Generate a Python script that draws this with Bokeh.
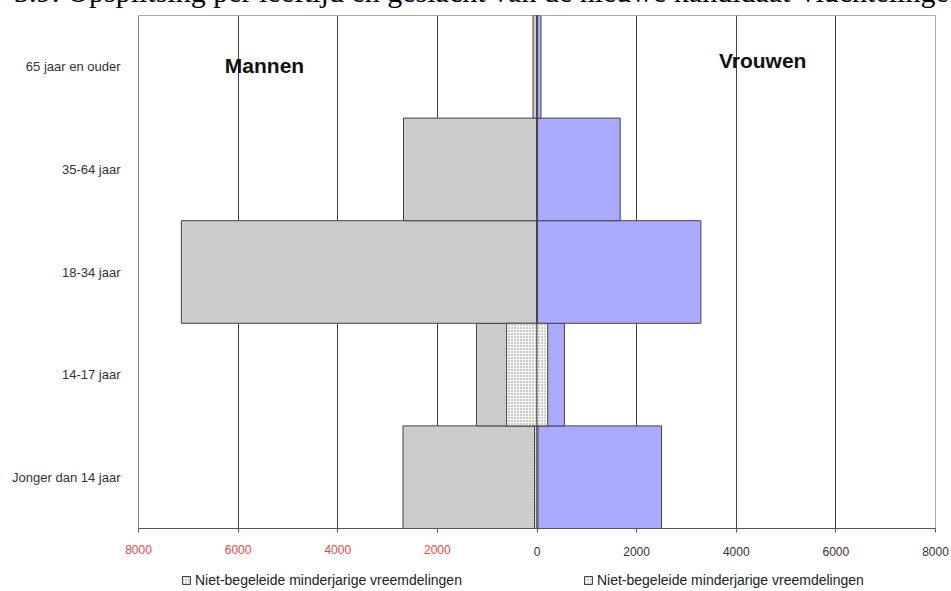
from bokeh.plotting import figure
from bokeh.layouts import column
from bokeh.models import (ColumnDataSource, Legend, LegendItem, LinearAxis,
                          FixedTicker, Range1d, FactorRange, Div)
from bokeh.core.properties import value
from bokeh.embed import file_html
from bokeh.resources import INLINE

# ---- data -------------------------------------------------------------
categories = ["Jonger dan 14 jaar", "14-17 jaar", "18-34 jaar",
              "35-64 jaar", "65 jaar en ouder"]
men_total = [2690, 1215, 7140, 2680, 80]
women_total = [2500, 550, 3290, 1670, 80]
men_unaccompanied = [50, 610, 0, 0, 0]
women_unaccompanied = [20, 215, 0, 0, 0]

x_ticks = [-8000, -6000, -4000, -2000, 0, 2000, 4000, 6000, 8000]
neg_tick_labels = ["8000", "6000", "4000", "2000"]
pos_tick_labels = ["0", "2000", "4000", "6000", "8000"]

gender_names = ["Mannen", "Vrouwen"]
gender_x = [-5470, 4530]
gender_y = ["65 jaar en ouder", "65 jaar en ouder"]

legend_label = "Niet-begeleide minderjarige vreemdelingen"
title_text = "3.9: Opsplitsing per leeftijd en geslacht van de nieuwe kandidaat-vluchtelingen"

W = 950
STIPPLE = dict(fill_color="white", line_color="#444444", line_width=1,
               hatch_pattern="dot", hatch_color="#777777", hatch_scale=3,
               hatch_weight=1)

# ---- sources ----------------------------------------------------------
src = ColumnDataSource(dict(
    cat=categories,
    men_left=[-v for v in men_total],
    women_right=women_total,
    um_left=[-v for v in men_unaccompanied],
    uw_right=women_unaccompanied,
    zero=[0] * len(categories),
))
txt = ColumnDataSource(dict(name=gender_names, x=gender_x, y=gender_y,
                            yo=[-1, -6]))

# ---- page caption, cropped at the top as in the scan --------------------
cap = Div(text=('<div style="position:relative; left:14px; top:-23px; '
                'white-space:nowrap; font-family:\'Liberation Serif\'; '
                'font-size:30px; line-height:30px; color:black;">'
                + title_text + '</div>'),
          width=W, height=14, margin=0, styles={"overflow": "hidden"})

# ---- main figure --------------------------------------------------------
p = figure(width=W, height=546, output_backend="svg", toolbar_location=None,
           y_range=FactorRange(*categories), x_range=Range1d(-8000, 8000),
           min_border_left=138, min_border_right=15, min_border_top=1,
           min_border_bottom=32, x_axis_location=None)
p.outline_line_color = "#aaaaaa"
p.outline_line_width = 1
p.background_fill_color = "white"
p.border_fill_color = "white"

p.ygrid.visible = False
p.xgrid.ticker = FixedTicker(ticks=x_ticks[1:-1])
p.xgrid.grid_line_color = "#444444"
p.xgrid.grid_line_width = 1

# bars
p.hbar(y="cat", left="men_left", right="zero", height=1.0, source=src,
       fill_color="#cccccc", line_color="#444444", line_width=1)
p.hbar(y="cat", left="zero", right="women_right", height=1.0, source=src,
       fill_color="#aaaaff", line_color="#444444", line_width=1)
p.hbar(y="cat", left="um_left", right="zero", height=1.0, source=src, **STIPPLE)
p.hbar(y="cat", left="zero", right="uw_right", height=1.0, source=src, **STIPPLE)

# gender labels
p.text(x="x", y="y", text="name", y_offset="yo", source=txt,
       text_font=value("Liberation Sans"), text_font_style="bold",
       text_font_size="21px", text_align="center", text_baseline="middle",
       text_color="#111111")

# y axis
p.yaxis.major_label_text_font = "Liberation Sans"
p.yaxis.major_label_text_font_size = "13px"
p.yaxis.major_label_text_color = "#333333"
p.yaxis.major_tick_line_color = None
p.yaxis.minor_tick_line_color = None
p.yaxis.axis_line_color = "#888888"
p.yaxis.major_label_standoff = 12

# x axis: black (positive) labels
ax1 = LinearAxis(ticker=FixedTicker(ticks=x_ticks))
ax1.major_label_overrides = {t: "" for t in x_ticks[:4]}
ax1.major_label_overrides.update({t: l for t, l in zip(x_ticks[4:], pos_tick_labels)})
ax1.major_label_text_font = "Liberation Sans"
ax1.major_label_text_font_size = "12px"
ax1.major_label_text_color = "#333333"
ax1.axis_line_color = "#555555"
ax1.major_tick_line_color = "#555555"
ax1.major_tick_out = 4
ax1.major_tick_in = 0
ax1.minor_tick_line_color = None
ax1.major_label_standoff = 14
p.add_layout(ax1, "below")

# x axis: red (negative) labels, drawn on the same row
ax2 = LinearAxis(ticker=FixedTicker(ticks=x_ticks))
ax2.major_label_overrides = {t: "" for t in x_ticks[4:]}
ax2.major_label_overrides.update({t: l for t, l in zip(x_ticks[:4], neg_tick_labels)})
ax2.major_label_text_font = "Liberation Sans"
ax2.major_label_text_font_size = "12px"
ax2.major_label_text_color = "#ee4444"
ax2.axis_line_color = None
ax2.major_tick_line_color = None
ax2.minor_tick_line_color = None
ax2.major_tick_out = 0
ax2.major_tick_in = 0
ax2.major_label_standoff = -14
p.add_layout(ax2, "below")

# ---- legend strip -------------------------------------------------------
lg = figure(width=W, height=30, output_backend="svg", toolbar_location=None,
            y_range=FactorRange(*categories), x_range=Range1d(-8000, 8000),
            min_border_left=138, min_border_right=15, min_border_top=0,
            min_border_bottom=0, x_axis_location=None, y_axis_location=None)
lg.outline_line_color = None
lg.grid.visible = False
lg.background_fill_color = "white"
lg.border_fill_color = "white"
r_m = lg.hbar(y="cat", left="um_left", right="zero", height=1.0, source=src,
              visible=False, **STIPPLE)
r_w = lg.hbar(y="cat", left="zero", right="uw_right", height=1.0, source=src,
              visible=False, **STIPPLE)
legend = Legend(items=[LegendItem(label=legend_label, renderers=[r_m]),
                       LegendItem(label=legend_label, renderers=[r_w])],
                orientation="horizontal", location=(43, 2),
                spacing=121, padding=0, margin=0,
                glyph_width=10, glyph_height=10, label_height=16,
                label_standoff=4, label_text_font="Liberation Sans",
                label_text_font_size="14px", label_text_color="#222222",
                inactive_fill_alpha=0,
                border_line_color=None, background_fill_alpha=0)
lg.add_layout(legend, "center")

layout = column(cap, p, lg, spacing=0)
open("out.html", "w").write(file_html(layout, INLINE))
